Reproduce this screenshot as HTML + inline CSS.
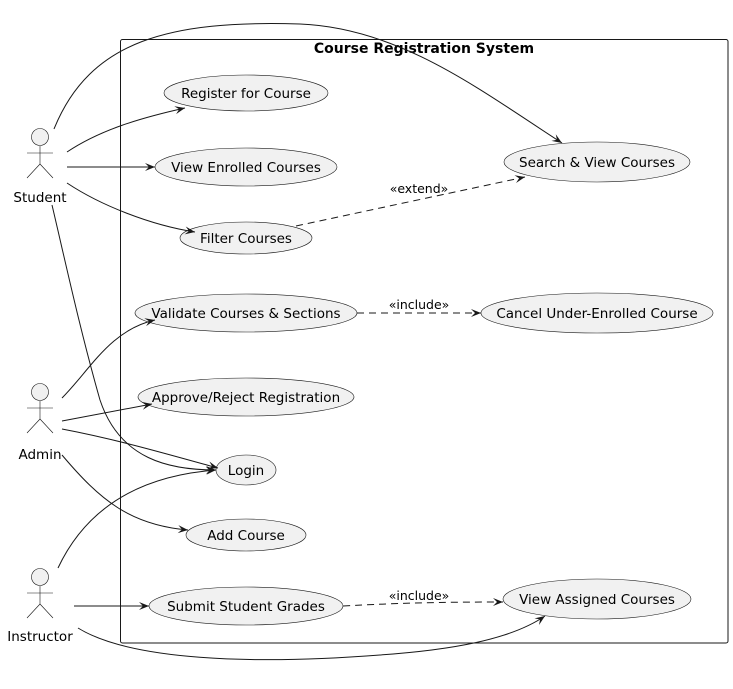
<!DOCTYPE html>
<html><head><style>
html,body{margin:0;padding:0;background:#fff;}
svg{display:block;font-family:"DejaVu Sans","Liberation Sans",sans-serif;}
</style></head><body>
<svg width="733" height="689" viewBox="0 0 733 689" xmlns="http://www.w3.org/2000/svg">
<defs>
<marker id="a" markerWidth="12" markerHeight="10" refX="10" refY="4" orient="auto" markerUnits="userSpaceOnUse">
<path d="M0,0 L10,4 L0,8 L4,4 z" fill="#181818"/>
</marker>
</defs>
<rect x="120.5" y="39.5" width="607.5" height="603.5" rx="2" fill="#fff" stroke="#181818" stroke-width="1"/>
<text x="424" y="53" font-size="14" font-weight="bold" text-anchor="middle" fill="#000">Course Registration System</text>

<g fill="#f1f1f1" stroke="#181818" stroke-width="0.6">
<ellipse cx="246" cy="93" rx="82" ry="18"/>
<ellipse cx="246" cy="167" rx="91" ry="19"/>
<ellipse cx="246" cy="238" rx="66" ry="16"/>
<ellipse cx="597" cy="162" rx="93" ry="20"/>
<ellipse cx="246" cy="313" rx="111" ry="19"/>
<ellipse cx="597" cy="313" rx="116" ry="20"/>
<ellipse cx="246" cy="397" rx="108" ry="19"/>
<ellipse cx="246" cy="470" rx="30" ry="15"/>
<ellipse cx="246" cy="535" rx="60" ry="16"/>
<ellipse cx="246" cy="606" rx="97" ry="19"/>
<ellipse cx="597" cy="599" rx="94" ry="20"/>
</g>
<g font-size="13.5" text-anchor="middle" fill="#000">
<text x="246" y="98">Register for Course</text>
<text x="246" y="172">View Enrolled Courses</text>
<text x="246" y="243">Filter Courses</text>
<text x="597" y="167">Search &amp; View Courses</text>
<text x="246" y="318">Validate Courses &amp; Sections</text>
<text x="597" y="318">Cancel Under-Enrolled Course</text>
<text x="246" y="402">Approve/Reject Registration</text>
<text x="246" y="475">Login</text>
<text x="246" y="540">Add Course</text>
<text x="246" y="611">Submit Student Grades</text>
<text x="597" y="604">View Assigned Courses</text>
</g>

<g fill="#f1f1f1" stroke="#181818" stroke-width="0.6">
<circle cx="40" cy="137" r="8.5"/>
<path d="M40,146 V164 M27,153 H53 M27,178 L40,164 L53,178" fill="none"/>
<circle cx="40" cy="392" r="8.5"/>
<path d="M40,401 V419 M27,408 H53 M27,433 L40,419 L53,433" fill="none"/>
<circle cx="40" cy="577" r="8.5"/>
<path d="M40,586 V604 M27,593 H53 M27,618 L40,604 L53,618" fill="none"/>
</g>
<g font-size="13.5" text-anchor="middle" fill="#000">
<text x="40" y="202">Student</text>
<text x="40" y="459">Admin</text>
<text x="40" y="641">Instructor</text>
</g>

<g fill="none" stroke="#181818" stroke-width="1" marker-end="url(#a)">
<path d="M54,129 C90,40 170,20 300,24 C400,28 480,90 562,143"/>
<path d="M67,152 C100,130 140,118 185,108"/>
<path d="M67,167 H155"/>
<path d="M67,183 C100,205 150,225 195,232"/>
<path d="M52,205 C65,260 80,330 100,400 C120,460 170,470 216,470"/>
<path d="M62,398 C90,370 110,330 155,320"/>
<path d="M62,421 C90,416 120,410 152,404"/>
<path d="M62,429 C120,440 170,455 218,468"/>
<path d="M62,455 C100,500 130,525 188,530"/>
<path d="M58,568 C90,500 150,475 216,470"/>
<path d="M74,606 H149"/>
<path d="M78,628 C130,660 250,665 380,655 C450,650 510,640 545,616"/>
</g>
<g fill="none" stroke="#181818" stroke-width="1" stroke-dasharray="7,5" marker-end="url(#a)">
<path d="M296,226 L525,177"/>
<path d="M357,313 H481"/>
<path d="M343,606 C400,603 440,602 503,602"/>
</g>
<g font-size="12.5" text-anchor="middle" fill="#000">
<text x="419" y="193">«extend»</text>
<text x="419" y="309">«include»</text>
<text x="419" y="600">«include»</text>
</g>
</svg>
</body></html>
